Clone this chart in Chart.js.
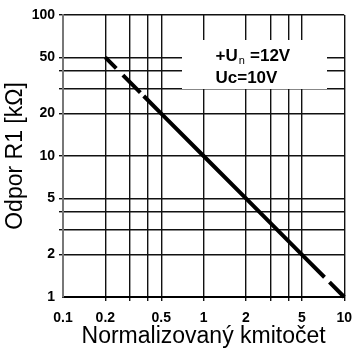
<!DOCTYPE html>
<html>
<head>
<meta charset="utf-8">
<script src="https://cdn.jsdelivr.net/npm/chart.js@4/dist/chart.umd.min.js"></script>
<style>
html,body{margin:0;padding:0;background:#fff;}
</style>
</head>
<body>
<canvas id="mycanvas" width="361" height="349"></canvas>
<script>
// R1 vs normalised frequency, log-log
var freq = [0.2, 0.5, 1, 2, 5, 10];
var odpor = [50, 20, 10, 5, 2, 1];

var xGrid = [0.1, 0.2, 0.3, 0.4, 0.5, 1, 2, 3, 4, 5, 10];
var yGrid = [1, 2, 3, 4, 5, 10, 20, 30, 40, 50, 100];
var xLabels = [0.1, 0.2, 0.5, 1, 2, 5, 10];
var yLabels = [1, 2, 5, 10, 20, 50, 100];

var FONT = '"Liberation Sans", Arial, Helvetica, sans-serif';

function gridColor(skip){
	return function(ctx){
		if(ctx.tick && ctx.tick.value === skip) return 'rgba(0,0,0,0)';
		return '#111';
	};
}

// white patch with the supply note, drawn over the grid
var noteBox = {
	id: 'noteBox',
	beforeDatasetsDraw: function(chart){
		var c = chart.ctx;
		c.save();
		c.fillStyle = '#fff';
		c.fillRect(182, 40, 145, 49);
		c.fillStyle = '#000';
		c.textBaseline = 'alphabetic';
		c.textAlign = 'left';
		var x = 215.5;
		c.font = 'bold 17px ' + FONT;
		c.fillText('+U', x, 61);
		var w = c.measureText('+U').width;
		c.font = '11px ' + FONT;
		c.fillText('n', x + w + 1, 64);
		c.font = 'bold 17px ' + FONT;
		c.fillText('=12V', 250, 61);
		c.fillText('Uc=10V', x, 82.5);
		c.restore();
	}
};

var ctx = document.getElementById('mycanvas');
var chart = new Chart(ctx, {
	type: 'line',
	data: {
		datasets: [{
			data: freq.map(function(f, i){ return {x: f, y: odpor[i]}; }),
			borderColor: '#000',
			borderWidth: 4,
			borderCapStyle: 'butt',
			borderDash: [15.5, 9.4, 24.7, 4.8, 256, 7, 40],
			pointRadius: 0,
			fill: false,
			tension: 0,
			clip: false
		}]
	},
	options: {
		responsive: false,
		animation: false,
		devicePixelRatio: 1,
		layout: {padding: {top: 15, right: 14, left: 0, bottom: 0}},
		plugins: {legend: {display: false}, tooltip: {enabled: false}},
		scales: {
			x: {
				type: 'logarithmic',
				min: 0.1,
				max: 10,
				afterBuildTicks: function(scale){
					scale.ticks = xGrid.map(function(v){ return {value: v}; });
				},
				afterFit: function(scale){ scale.height = 52; },
				grid: {color: gridColor(0.1), lineWidth: 1.4, tickLength: 4},
				border: {color: '#000', width: 2},
				ticks: {
					autoSkip: false,
					maxRotation: 0,
					padding: 9,
					color: '#000',
					font: {family: FONT, size: 14, weight: 'bold'},
					callback: function(v){ return xLabels.indexOf(v) >= 0 ? String(v) : ''; }
				},
				title: {
					display: true,
					text: 'Normalizovaný kmitočet',
					color: '#000',
					font: {family: FONT, size: 23, lineHeight: 1.1},
					padding: {top: 0, bottom: 0}
				}
			},
			y: {
				type: 'logarithmic',
				min: 1,
				max: 100,
				afterBuildTicks: function(scale){
					scale.ticks = yGrid.map(function(v){ return {value: v}; });
				},
				afterFit: function(scale){ scale.width = 63; },
				grid: {color: gridColor(1), lineWidth: 1.4, tickLength: 4},
				border: {color: '#777', width: 2},
				ticks: {
					autoSkip: false,
					padding: 4,
					color: '#000',
					font: {family: FONT, size: 14, weight: 'bold'},
					callback: function(v){ return yLabels.indexOf(v) >= 0 ? String(v) : ''; }
				},
				title: {
					display: true,
					text: 'Odpor R1 [kΩ]',
					color: '#000',
					font: {family: FONT, size: 23, lineHeight: 1.1},
					padding: {top: 3, bottom: 0}
				}
			}
		}
	},
	plugins: [noteBox]
});
</script>
</body>
</html>
